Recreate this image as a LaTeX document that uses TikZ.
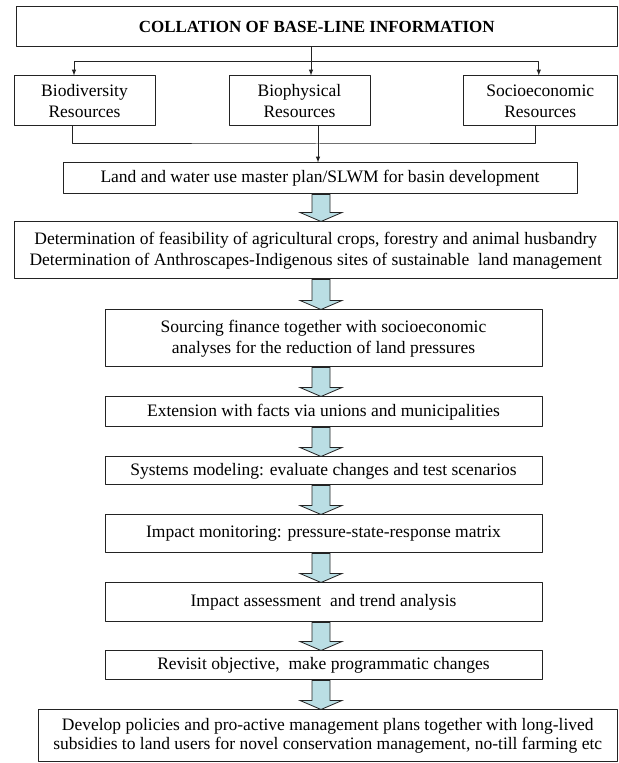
\documentclass[tikz,border=0pt]{standalone}
\usepackage{fontspec}
\setmainfont{Liberation Serif}
\definecolor{arrowfill}{RGB}{186,222,228}
\definecolor{linecol}{RGB}{35,35,35}
\tikzset{
  box/.style={draw=linecol, rectangle, inner sep=0pt, align=center,
    font=\fontsize{17.5bp}{21bp}\selectfont},
  blockarr/.style={fill=arrowfill, draw=linecol, line width=0.8bp, line join=miter},
}
% fat arrow from the bottom of #1 to the top of #2, on the axis
\newcommand{\blockarrow}[2]{%
  \coordinate (ba-s) at (#1.south -| axis);
  \coordinate (ba-e) at (#2.north -| axis);
  \filldraw[blockarr] ([xshift=-9bp]ba-s) -- ([shift={(-9bp,9bp)}]ba-e)
    -- ([shift={(-21bp,9bp)}]ba-e) -- (ba-e) -- ([shift={(21bp,9bp)}]ba-e)
    -- ([shift={(9bp,9bp)}]ba-e) -- ([xshift=9bp]ba-s) -- cycle;}
\begin{document}
\begin{tikzpicture}[>=latex,line join=bevel,]
  \pgfsetlinewidth{1bp}
  \useasboundingbox (0bp,0bp) rectangle (619bp,763bp);
%%
  % Node: base
  \node [box, minimum width=601.5bp, minimum height=40bp,
    font=\fontsize{17bp}{20bp}\selectfont\bfseries] (base) at (316.75bp,736bp) {COLLATION OF BASE-LINE INFORMATION};
  % Node: biodiv
  \node [box, minimum width=141bp, minimum height=50bp] (biodiv) at (84.5bp,662bp) {Biodiversity\\Resources};
  % Node: biophys
  \node [box, minimum width=141bp, minimum height=50bp] (biophys) at (299.5bp,662bp) {Biophysical\\Resources};
  % Node: socio
  \node [box, minimum width=154.5bp, minimum height=50bp] (socio) at (540.25bp,662bp) {Socioeconomic\\Resources};
  % Node: land
  \node [box, minimum width=514bp, minimum height=31bp] (land) at (320bp,584.5bp) {Land and water use master plan/SLWM for basin development};
  % Node: det
  \node [box, minimum width=603.5bp, minimum height=57bp] (det) at (315.75bp,512.5bp) {Determination of feasibility of agricultural crops, forestry and animal husbandry\\Determination of Anthroscapes-Indigenous sites of sustainable \ land management};
  % Node: src
  \node [box, minimum width=437bp, minimum height=57bp] (src) at (323.5bp,424.5bp) {Sourcing finance together with socioeconomic\\analyses for the reduction of land pressures};
  % Node: ext
  \node [box, minimum width=437bp, minimum height=30bp] (ext) at (323.5bp,351bp) {Extension with facts via unions and municipalities};
  % Node: sysm
  \node [box, minimum width=437bp, minimum height=28bp] (sysm) at (323.5bp,292bp) {Systems modeling: evaluate changes and test scenarios};
  % Node: monit
  \node [box, minimum width=437bp, minimum height=38bp] (monit) at (323.5bp,229bp) {Impact monitoring: pressure-state-response matrix};
  % Node: assess
  \node [box, minimum width=437bp, minimum height=39bp] (assess) at (323.5bp,160.5bp) {Impact assessment \ and trend analysis};
  % Node: revis
  \node [box, minimum width=437bp, minimum height=29bp] (revis) at (323.5bp,97.5bp) {Revisit objective, \ make programmatic changes};
  % Node: devel
  \node [box, minimum width=579.5bp, minimum height=52bp, font=\fontsize{17.5bp}{19.5bp}\selectfont] (devel) at (327.75bp,27bp) {Develop policies and pro-active management plans together with long-lived\\subsidies to land users for novel conservation management, no-till farming etc};
%%
\pgfsetcolor{linecol}
  \coordinate (fork) at (311bp,701bp);
  \coordinate (join) at (318bp,619bp);
  \coordinate (axis) at (321bp,0bp);
  % Edge: base -> biodiv, biophys, socio
  \draw (base.south -| fork) -- (fork);
  \draw [->] (fork) -| ([xshift=-10.5bp]biodiv.north);
  \draw [->] (fork) -- (fork |- biophys.north);
  \draw [->] (fork) -| ([xshift=-1.5bp]socio.north);
  % Edge: biodiv, biophys, socio -> land
  \draw ([xshift=-12.5bp]biodiv.south) |- (join) -| ([xshift=-4.5bp]socio.south);
  \draw [->] (join |- biophys.south) -- (join |- land.north);
  % Edge: land -> det -> src -> ext -> sysm -> monit -> assess -> revis -> devel
  \blockarrow{land}{det}
  \blockarrow{det}{src}
  \blockarrow{src}{ext}
  \blockarrow{ext}{sysm}
  \blockarrow{sysm}{monit}
  \blockarrow{monit}{assess}
  \blockarrow{assess}{revis}
  \blockarrow{revis}{devel}
%
\end{tikzpicture}
\end{document}
